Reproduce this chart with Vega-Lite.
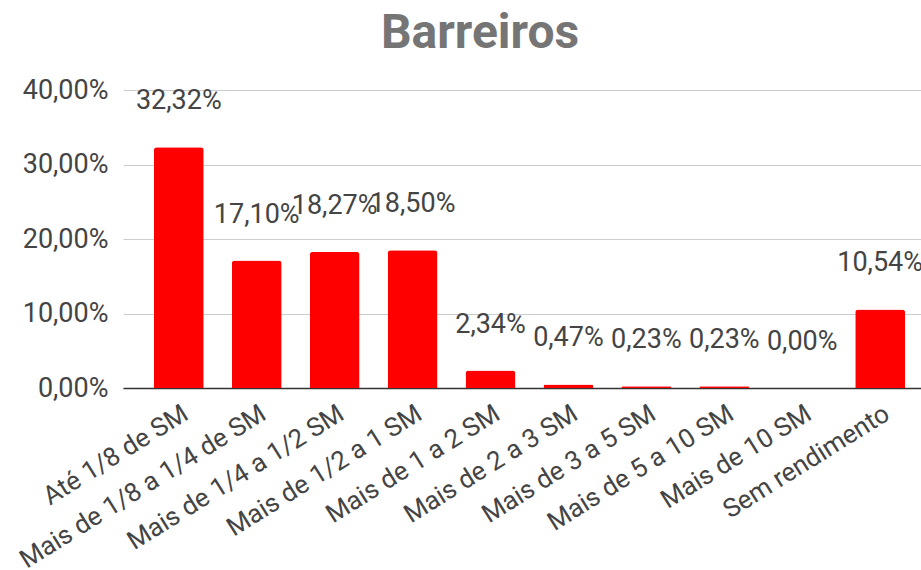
{
  "$schema": "https://vega.github.io/schema/vega-lite/v6.json",
  "width": 798,
  "height": 298,
  "autosize": {"type": "none"},
  "padding": {"left": 123, "top": 90, "right": 0, "bottom": 182},
  "background": "white",
  "title": {
    "text": "Barreiros",
    "font": "Roboto",
    "fontSize": 48,
    "fontWeight": "bold",
    "color": "#757575",
    "anchor": "middle",
    "dx": -42,
    "offset": 18
  },
  "data": {
    "values": [
      {"faixa": "Até 1/8 de SM", "pct": 0.3232},
      {"faixa": "Mais de 1/8 a 1/4 de SM", "pct": 0.1710},
      {"faixa": "Mais de 1/4 a 1/2 SM", "pct": 0.1827},
      {"faixa": "Mais de 1/2 a 1 SM", "pct": 0.1850},
      {"faixa": "Mais de 1 a 2 SM", "pct": 0.0234},
      {"faixa": "Mais de 2 a 3 SM", "pct": 0.0047},
      {"faixa": "Mais de 3 a 5 SM", "pct": 0.0023},
      {"faixa": "Mais de 5 a 10 SM", "pct": 0.0023},
      {"faixa": "Mais de 10 SM", "pct": 0.0},
      {"faixa": "Sem rendimento", "pct": 0.1054}
    ]
  },
  "encoding": {
    "x": {
      "field": "faixa",
      "type": "nominal",
      "sort": null,
      "scale": {"paddingInner": 0.36, "paddingOuter": 0.3, "align": 0.66},
      "axis": {
        "title": null,
        "labelAngle": -32,
        "labelFont": "Roboto",
        "labelFontSize": 26,
        "labelColor": "#444444",
        "labelPadding": 12,
        "labelLimit": 500,
        "labelOverlap": false,
        "ticks": false,
        "domainColor": "#333333",
        "domainWidth": 1.5
      }
    },
    "y": {
      "field": "pct",
      "type": "quantitative",
      "scale": {"domain": [0, 0.4]},
      "axis": {
        "title": null,
        "format": ".2%",
        "values": [0, 0.1, 0.2, 0.3, 0.4],
        "labelFont": "Roboto",
        "labelFontSize": 27,
        "labelColor": "#444444",
        "labelPadding": 15,
        "ticks": false,
        "domain": false,
        "gridColor": "#cccccc",
        "gridWidth": 1
      }
    }
  },
  "layer": [
    {
      "mark": {"type": "bar", "color": "#ff0000", "cornerRadiusTopLeft": 3, "cornerRadiusTopRight": 3}
    },
    {
      "mark": {"type": "text", "font": "Roboto", "fontSize": 27, "color": "#444444", "baseline": "middle", "dy": -46},
      "encoding": {"text": {"field": "pct", "type": "quantitative", "format": ".2%"}}
    }
  ],
  "config": {
    "view": {"stroke": null},
    "locale": {
      "number": {"decimal": ",", "thousands": ".", "grouping": [3], "currency": ["R$", ""]}
    }
  }
}
